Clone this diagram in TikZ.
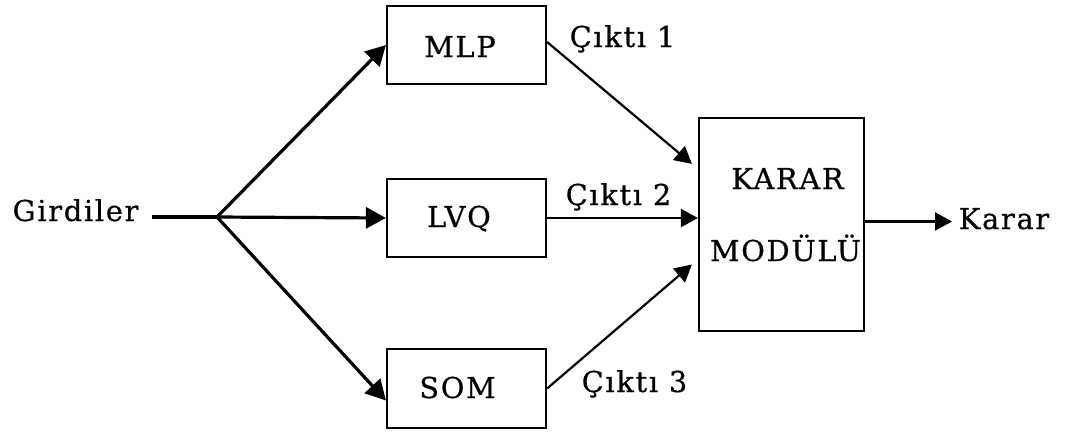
\documentclass[tikz,border=0pt]{standalone}
\usepackage{fontspec}
\setmainfont{DejaVu Serif}[LetterSpace=6,FakeBold=0.6]
\usetikzlibrary{arrows.meta}
\begin{document}
\begin{tikzpicture}[x=1pt,y=-1pt,
  every node/.style={font=\fontsize{28.8pt}{34pt}\selectfont, inner sep=0pt},
  blok/.style={draw, line width=2.2pt, minimum width=159pt, minimum height=78pt},
  yazi/.style={anchor=base},
  girdi/.style={line width=3.2pt, -{Triangle[length=20pt,width=21pt]}},
  cikti/.style={line width=2.2pt, -{Triangle[length=17pt,width=18pt]}}]
  \useasboundingbox (0,0) rectangle (1075,432);

  % processing blocks
  \node[blok] (mlp) at (466.5,45) {};
  \node[blok] (lvq) at (466.5,218) {};
  \node[blok, minimum height=79pt] (som) at (466.5,388.5) {};
  \node[blok, minimum width=165pt, minimum height=213pt] (karar) at (781.5,224.5) {};

  % texts
  \node[yazi] (gir) at (75.5,221) {Girdiler};
  \node[yazi] (tmlp) at (460,57) {MLP};
  \node[yazi] (tlvq) at (459,227) {LVQ};
  \node[yazi] (tsom) at (457.5,398) {SOM};
  \node[yazi] (tk1) at (787.5,189) {KARAR};
  \node[yazi] (tk2) at (785.5,261) {MODÜLÜ};
  \node[yazi] (out) at (1004,229) {Karar};
  \node[yazi] (c1) at (622.5,47) {Çıktı 1};
  \node[yazi] (c2) at (618.5,205) {Çıktı 2};
  \node[yazi] (c3) at (634.5,392) {Çıktı 3};

  % input distribution
  \coordinate (br) at (217,217);
  \draw[line width=3.2pt] (152,217) -- (br);
  \draw[girdi] (br) -- (mlp.west);
  \draw[girdi] (br) -- (lvq.west);
  \draw[girdi] (br) -- ([yshift=-12pt]som.west);

  % block outputs into the decision module
  \draw[cikti] ([yshift=3pt]mlp.east) -- ([xshift=-6pt,yshift=-47pt]karar.north west);
  \draw[cikti] (lvq.east) -- (karar.west |- lvq.east);
  \draw[cikti] (som.east) -- ([xshift=-6pt,yshift=-40pt]karar.west);

  % final decision
  \draw[cikti] ([yshift=3pt]karar.east) -- ([yshift=3pt]karar.east -| 952,0);
\end{tikzpicture}
\end{document}
